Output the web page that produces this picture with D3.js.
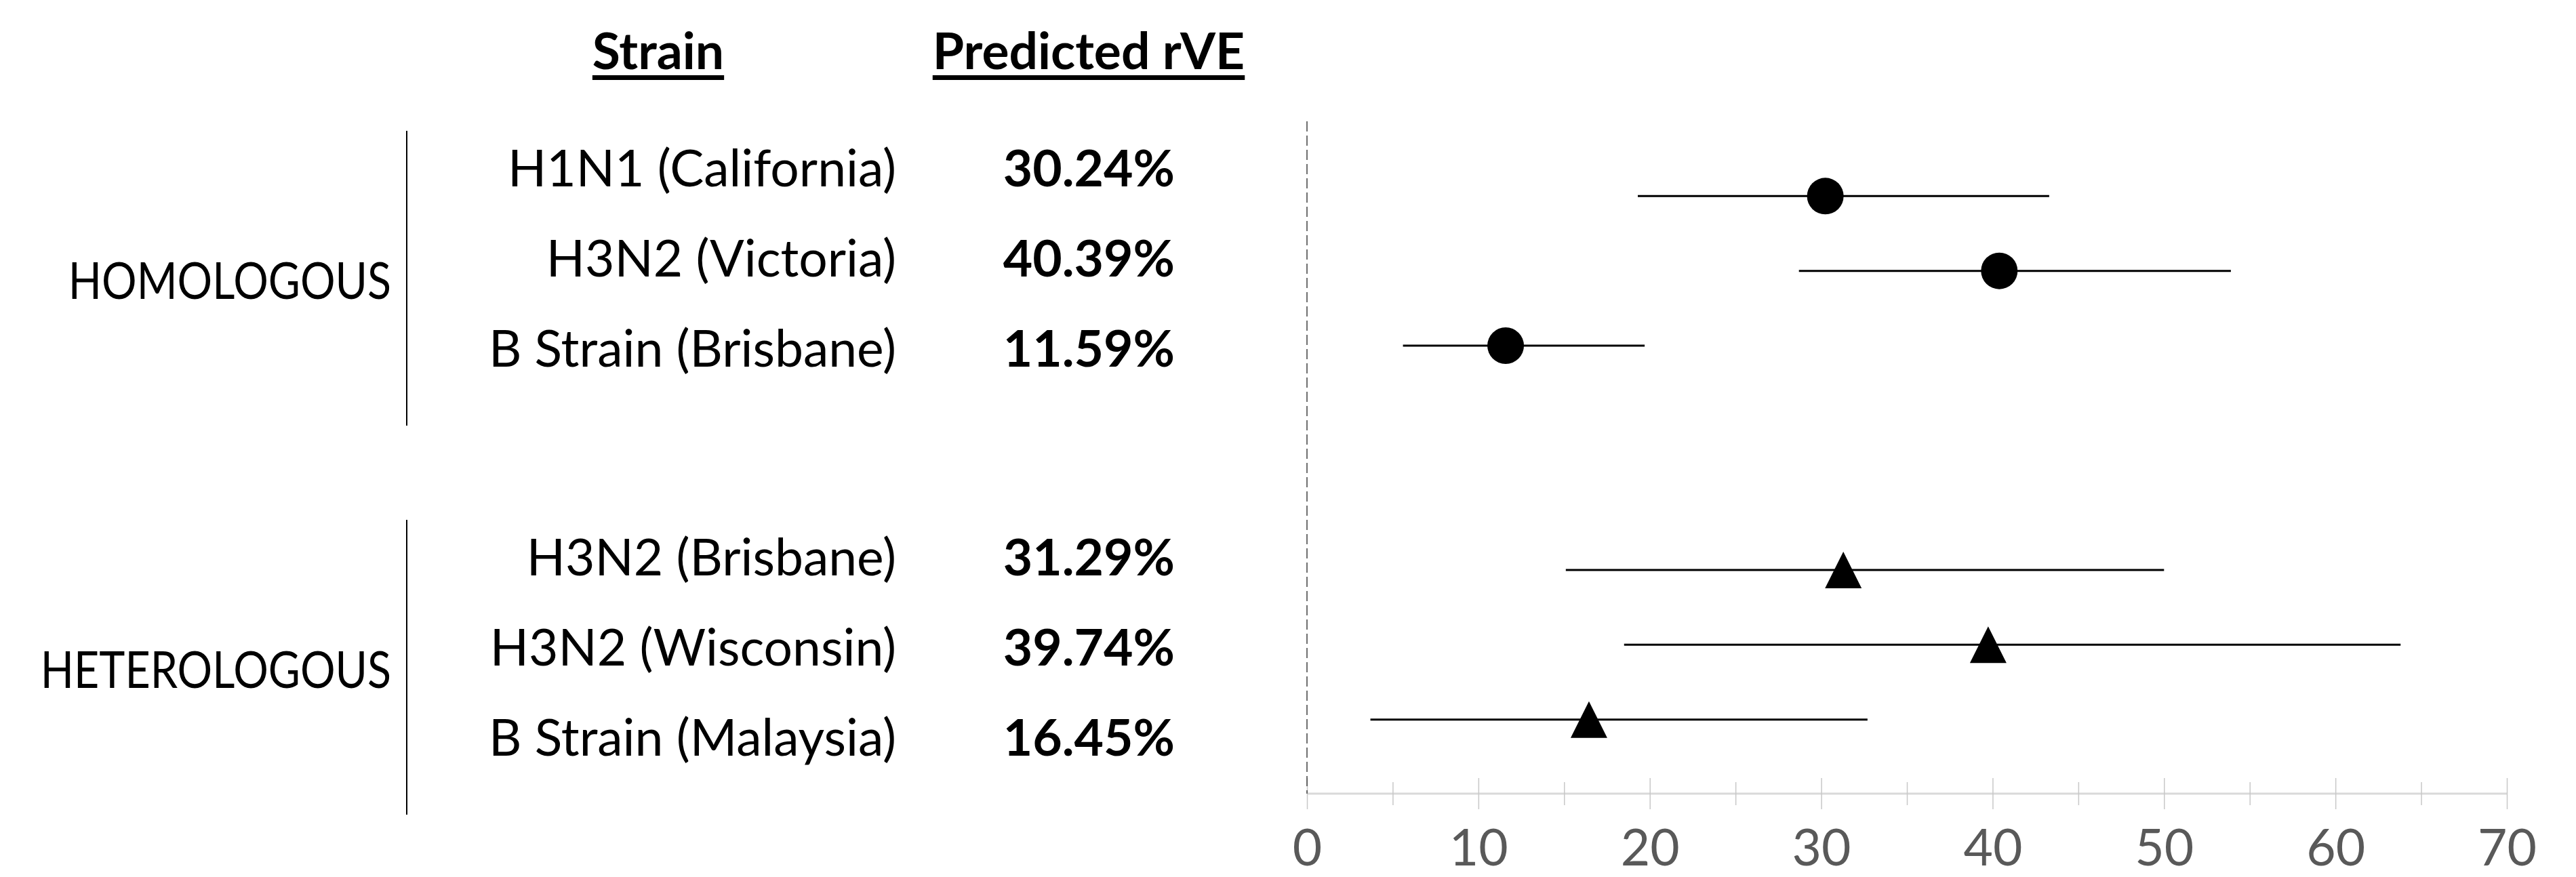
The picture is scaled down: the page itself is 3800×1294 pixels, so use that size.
<!DOCTYPE html>
<html>
<head>
<meta charset="utf-8">
<script src="https://cdn.jsdelivr.net/npm/d3@7"></script>
<style>
  body { margin: 0; background: #fff; }
  svg text { font-family: Lato, "Open Sans", sans-serif; }
</style>
</head>
<body>
<script>
// data
const strains = [
    "H1N1 (California)", "H3N2 (Victoria)", "B Strain (Brisbane)",
    "H3N2 (Brisbane)", "H3N2 (Wisconsin)", "B Strain (Malaysia)"
]
const groups = ["HOMOLOGOUS", "HETEROLOGOUS"]
const groupOf = [0, 0, 0, 1, 1, 1]
const rve = [30.24, 40.39, 11.59, 31.29, 39.74, 16.45]
const ciLow = [19.3, 28.7, 5.6, 15.1, 18.5, 3.7]
const ciHigh = [43.3, 53.9, 19.7, 50.0, 63.8, 32.7]
const xTicks = [0, 10, 20, 30, 40, 50, 60, 70]
const xMinorTicks = [5, 15, 25, 35, 45, 55, 65]

const
    svgWidth = 3800,
    svgHeight = 1294,
    FONT = 75,
    MARK = 27,
    // the original caps face is narrower than Lato's
    CAPS_SQUEEZE = 0.86

// plot slots: three rows per group, two empty slots between the groups
const rowSlot = [0, 1, 2, 5, 6, 7]

const x = d3.scaleLinear().domain([0, 70]).range([1928, 3698])
const y = d3.scaleLinear().domain([-1, 8]).range([179, 1172])

// the text table on the left has its own row spacing
const tableBase = [275, 849]
const tableStep = 133
const rowInGroup = [0, 1, 2, 0, 1, 2]
const tableY = i => tableBase[groupOf[i]] + rowInGroup[i] * tableStep

let svg = d3.select('body').append('svg')
    .attr('width', svgWidth)
    .attr('height', svgHeight)

// HEADERS
const headers = [
    { label: "Strain", cx: 971 },
    { label: "Predicted rVE", cx: 1606 }
]
headers.forEach(h => {
    let t = svg.append('text')
        .text(h.label)
        .attr('x', h.cx)
        .attr('y', 102)
        .attr('text-anchor', 'middle')
        .attr('font-size', FONT)
        .attr('font-weight', 'bold')
        .attr('fill', '#000')
    let w = t.node().getComputedTextLength()
    svg.append('line')
        .attr('x1', h.cx - w / 2)
        .attr('x2', h.cx + w / 2)
        .attr('y1', 114.5)
        .attr('y2', 114.5)
        .attr('stroke', '#000')
        .attr('stroke-width', 7)
})

// GROUP LABELS + BRACKET LINES
svg.selectAll('.group-label')
    .data(groups)
    .join('text')
    .attr('class', 'group-label')
    .text(d => d)
    .attr('x', 577)
    .attr('y', (d, i) => tableBase[i] + 166)
    .attr('text-anchor', 'end')
    .attr('font-size', FONT)
    .attr('fill', '#000')
    .each(function () {
        let w = this.getComputedTextLength()
        d3.select(this)
            .attr('textLength', w * CAPS_SQUEEZE)
            .attr('lengthAdjust', 'spacingAndGlyphs')
    })

svg.selectAll('.group-line')
    .data(groups)
    .join('line')
    .attr('class', 'group-line')
    .attr('x1', 600)
    .attr('x2', 600)
    .attr('y1', (d, i) => tableBase[i] - 82)
    .attr('y2', (d, i) => tableBase[i] + 353)
    .attr('stroke', '#000')
    .attr('stroke-width', 2)

// STRAIN NAMES AND PREDICTED rVE
svg.selectAll('.strain')
    .data(strains)
    .join('text')
    .attr('class', 'strain')
    .text(d => d)
    .attr('x', 1322)
    .attr('y', (d, i) => tableY(i))
    .attr('text-anchor', 'end')
    .attr('font-size', FONT)
    .attr('fill', '#000')

svg.selectAll('.rve')
    .data(rve)
    .join('text')
    .attr('class', 'rve')
    .text(d => d.toFixed(2) + '%')
    .attr('x', 1733)
    .attr('y', (d, i) => tableY(i))
    .attr('text-anchor', 'end')
    .attr('font-size', FONT)
    .attr('font-weight', 'bold')
    .attr('fill', '#000')

// X AXIS
svg.append('line')
    .attr('x1', x(0))
    .attr('x2', x(70))
    .attr('y1', 1171)
    .attr('y2', 1171)
    .attr('stroke', '#d9d9d9')
    .attr('stroke-width', 3)

let majorAxis = svg.append('g')
    .attr('transform', 'translate(0,1148)')
    .call(d3.axisBottom(x).tickValues(xTicks).tickSize(46).tickPadding(30))
majorAxis.select('.domain').remove()
majorAxis.selectAll('.tick line').attr('stroke', '#c8c8c8').attr('stroke-width', 1.5)
majorAxis.selectAll('.tick text')
    .attr('fill', '#595959')
    .attr('font-size', FONT)
    .attr('font-family', '"Liberation Sans", Arial, sans-serif')

let minorAxis = svg.append('g')
    .attr('transform', 'translate(0,1154)')
    .call(d3.axisBottom(x).tickValues(xMinorTicks).tickSize(34).tickFormat(''))
minorAxis.select('.domain').remove()
minorAxis.selectAll('.tick line').attr('stroke', '#c8c8c8').attr('stroke-width', 1.5)

// ZERO LINE
svg.append('line')
    .attr('x1', x(0))
    .attr('x2', x(0))
    .attr('y1', y(-1))
    .attr('y2', 1171)
    .attr('stroke', '#404040')
    .attr('stroke-width', 1.5)
    .attr('stroke-dasharray', '15,6')

// CONFIDENCE INTERVALS
svg.selectAll('.ci')
    .data(rve)
    .join('line')
    .attr('class', 'ci')
    .attr('x1', (d, i) => x(ciLow[i]))
    .attr('x2', (d, i) => x(ciHigh[i]))
    .attr('y1', (d, i) => y(rowSlot[i]))
    .attr('y2', (d, i) => y(rowSlot[i]))
    .attr('stroke', '#000')
    .attr('stroke-width', 3)

// POINT ESTIMATES: circles for homologous, triangles for heterologous
svg.selectAll('.dot')
    .data(rve.filter((d, i) => groupOf[i] === 0))
    .join('circle')
    .attr('class', 'dot')
    .attr('cx', d => x(d))
    .attr('cy', (d, i) => y(rowSlot[i]))
    .attr('r', MARK)
    .attr('fill', '#000')

svg.selectAll('.tri')
    .data(rve.map((d, i) => ({ v: d, i: i })).filter(d => groupOf[d.i] === 1))
    .join('path')
    .attr('class', 'tri')
    .attr('d', d => {
        let cx = x(d.v), cy = y(rowSlot[d.i])
        return `M${cx},${cy - MARK}L${cx + MARK},${cy + MARK}L${cx - MARK},${cy + MARK}Z`
    })
    .attr('fill', '#000')
</script>
</body>
</html>
